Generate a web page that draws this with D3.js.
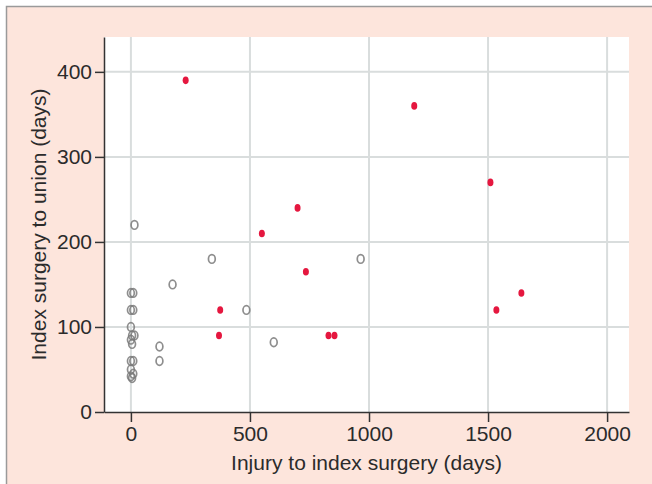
<!DOCTYPE html>
<html>
<head>
<meta charset="UTF-8">
<title></title>
<style>
  body { margin: 0; background: #fff; }
  text { font-family: "Liberation Sans", Arial, sans-serif; fill: #2b2b2b; }
  .axis path, .axis line { stroke: #333; stroke-width: 1.5; }
</style>
</head>
<body>
<script src="https://cdn.jsdelivr.net/npm/d3@7"></script>
<script>
var width = 652, height = 484;

// tick values
var xTicks = [0, 500, 1000, 1500, 2000];
var yTicks = [0, 100, 200, 300, 400];

// open grey circles
var greyX = [0, 10, 0, 10, 0, 5, 15, 0, 5, 0, 10, 0, 10, 0, 5,
             15, 120, 120, 175, 340, 485, 600, 965];
var greyY = [140, 140, 120, 120, 100, 90, 90, 85, 80, 60, 60, 50, 45, 42, 40,
             220, 77, 60, 150, 180, 120, 82, 180];

// filled red dots
var redX = [230, 1190, 1510, 700, 550, 735, 375, 370, 830, 855, 1535, 1640];
var redY = [390, 360, 270, 240, 210, 165, 120, 90, 90, 90, 120, 140];

var svg = d3.select("body").append("svg")
  .attr("width", width)
  .attr("height", height);

// pink panel with grey frame
svg.append("rect")
  .attr("x", 6.5).attr("y", 6.5)
  .attr("width", width).attr("height", height)
  .attr("fill", "#fde5dc")
  .attr("stroke", "#9a9a9a")
  .attr("stroke-width", 1.5);

var plot = { left: 104, right: 629, top: 37, bottom: 412 };

var x = d3.scaleLinear().domain([-113, 2092]).range([plot.left, plot.right]);
var y = d3.scaleLinear().domain([0, 441]).range([plot.bottom, plot.top]);

svg.append("rect")
  .attr("x", plot.left).attr("y", plot.top)
  .attr("width", plot.right - plot.left)
  .attr("height", plot.bottom - plot.top)
  .attr("fill", "#fff");

// grid
svg.append("g").selectAll("line")
  .data(xTicks).enter().append("line")
  .attr("x1", function(d) { return x(d); })
  .attr("x2", function(d) { return x(d); })
  .attr("y1", plot.top).attr("y2", plot.bottom)
  .attr("stroke", "#d9dddd").attr("stroke-width", 2);

svg.append("g").selectAll("line")
  .data(yTicks.slice(1)).enter().append("line")
  .attr("x1", plot.left).attr("x2", plot.right)
  .attr("y1", function(d) { return y(d); })
  .attr("y2", function(d) { return y(d); })
  .attr("stroke", "#d9dddd").attr("stroke-width", 2);

// axes
var xAxis = d3.axisBottom(x).tickValues(xTicks).tickFormat(d3.format("d"))
  .tickSize(10).tickSizeOuter(0).tickPadding(4);
var yAxis = d3.axisLeft(y).tickValues(yTicks).tickFormat(d3.format("d"))
  .tickSize(9).tickSizeOuter(0).tickPadding(3);

var gx = svg.append("g").attr("class", "axis")
  .attr("transform", "translate(0," + plot.bottom + ")")
  .call(xAxis);
var gy = svg.append("g").attr("class", "axis")
  .attr("transform", "translate(" + plot.left + ",0)")
  .call(yAxis);

gx.attr("font-family", null);
gy.attr("font-family", null);
gx.selectAll("text").style("font-size", "21px").attr("fill", "#2b2b2b");
gy.selectAll("text").style("font-size", "21px").attr("fill", "#2b2b2b");

// titles
svg.append("text")
  .attr("x", (plot.left + plot.right) / 2)
  .attr("y", 470)
  .attr("text-anchor", "middle")
  .style("font-size", "21px")
  .text("Injury to index surgery (days)");

svg.append("text")
  .attr("transform", "translate(46," + (plot.top + plot.bottom) / 2 + ") rotate(-90)")
  .attr("text-anchor", "middle")
  .style("font-size", "21px")
  .text("Index surgery to union (days)");

// points
svg.append("g").selectAll("ellipse")
  .data(greyX).enter().append("ellipse")
  .attr("cx", function(d) { return x(d); })
  .attr("cy", function(d, i) { return y(greyY[i]); })
  .attr("rx", 3.4).attr("ry", 4.3)
  .attr("fill", "none")
  .attr("stroke", "#7a7a7a")
  .attr("stroke-width", 1.7)
  .attr("stroke-opacity", 0.85);

svg.append("g").selectAll("ellipse")
  .data(redX).enter().append("ellipse")
  .attr("cx", function(d) { return x(d); })
  .attr("cy", function(d, i) { return y(redY[i]); })
  .attr("rx", 3).attr("ry", 3.8)
  .attr("fill", "#e5173f");
</script>
</body>
</html>
